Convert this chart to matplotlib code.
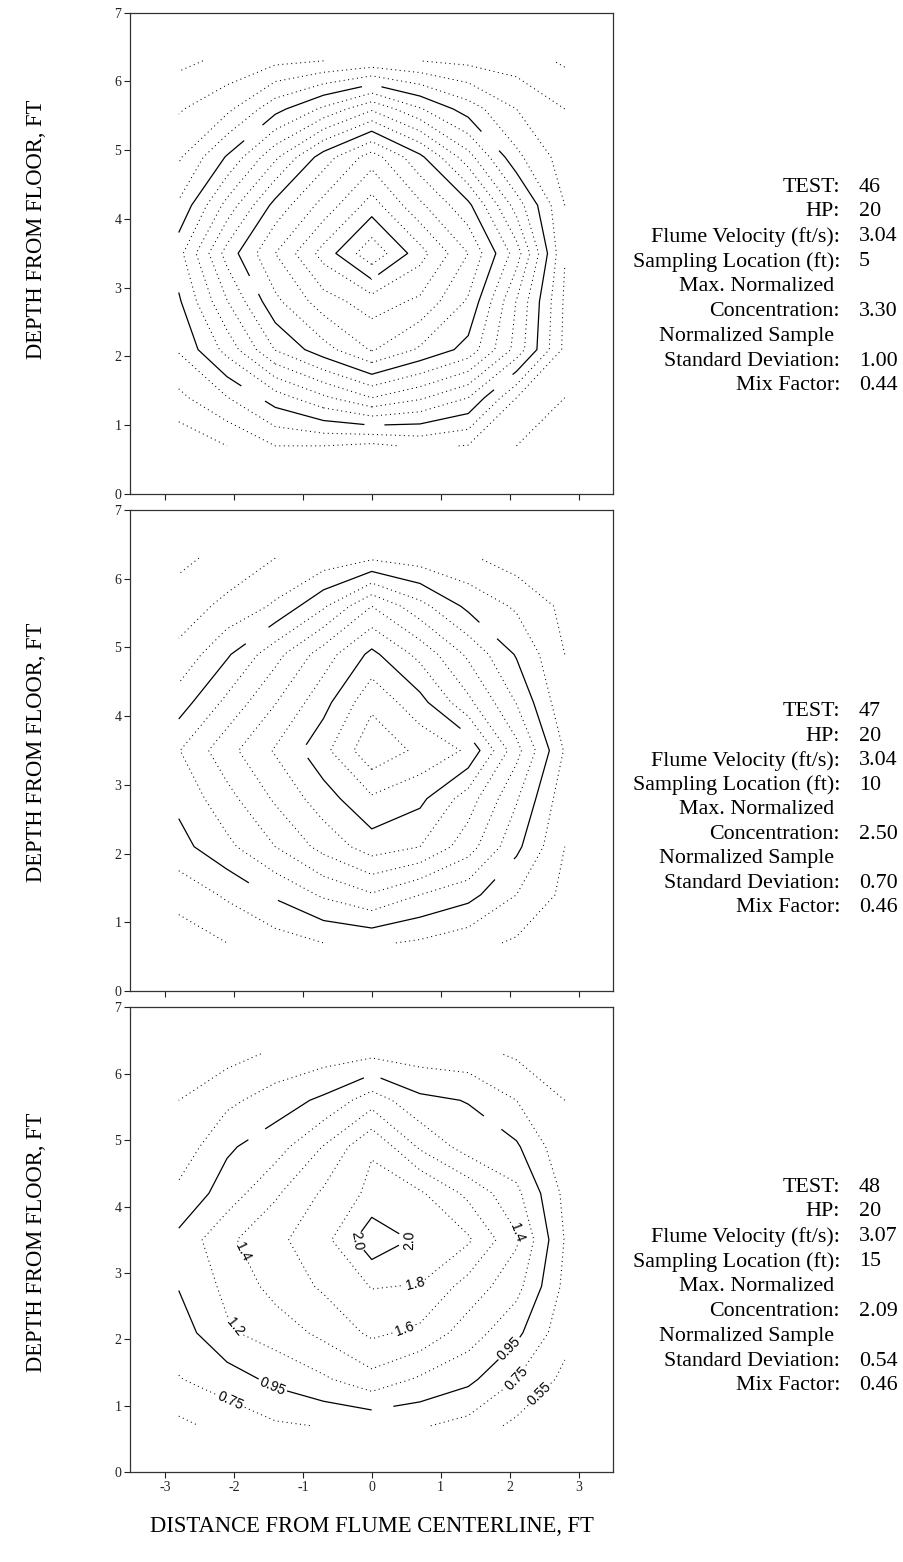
import numpy as np
import matplotlib
matplotlib.use("Agg")
import matplotlib.pyplot as plt

plt.rcParams['font.family'] = ['Liberation Serif', 'DejaVu Serif']
plt.rcParams['axes.unicode_minus'] = False
plt.rcParams['lines.dotted_pattern'] = [1.0, 3.3]

# sampling grid across the flume section (ft)
x_pos = [-2.8, -2.1, -1.4, -0.7, 0.0, 0.7, 1.4, 2.1, 2.8]
y_pos = [0.7, 1.4, 2.1, 2.8, 3.5, 4.2, 4.9, 5.6, 6.3]

# normalized concentration, one row per depth (bottom row first)
conc_46 = [
    [0.20, 0.35, 0.55, 0.55, 0.50, 0.59, 0.54, 0.35, 0.20],
    [0.50, 0.74, 1.05, 1.31, 1.55, 1.38, 1.15, 0.55, 0.35],
    [0.77, 1.22, 1.76, 2.07, 2.37, 2.12, 1.88, 1.28, 0.50],
    [0.92, 1.54, 2.10, 2.46, 2.65, 2.51, 2.12, 1.34, 0.52],
    [1.08, 1.83, 2.35, 2.83, 3.30, 2.83, 2.35, 1.65, 0.56],
    [0.78, 1.42, 2.02, 2.42, 2.84, 2.39, 2.00, 1.26, 0.55],
    [0.52, 0.97, 1.51, 2.05, 2.45, 2.00, 1.43, 0.80, 0.45],
    [0.33, 0.50, 0.88, 1.19, 1.52, 1.17, 0.85, 0.55, 0.35],
    [0.10, 0.20, 0.30, 0.35, 0.40, 0.35, 0.30, 0.25, 0.12],
]
conc_47 = [
    [0.45, 0.55, 0.65, 0.75, 0.78, 0.72, 0.62, 0.52, 0.40],
    [0.62, 0.78, 0.98, 1.18, 1.33, 1.15, 1.02, 0.75, 0.50],
    [0.88, 1.10, 1.35, 1.62, 1.85, 1.75, 1.44, 1.00, 0.55],
    [1.00, 1.28, 1.58, 1.86, 2.12, 2.00, 1.65, 1.17, 0.62],
    [1.14, 1.48, 1.77, 2.09, 2.50, 2.30, 2.12, 1.42, 0.73],
    [0.85, 1.20, 1.54, 1.88, 2.30, 2.02, 1.60, 1.14, 0.60],
    [0.60, 0.92, 1.28, 1.65, 2.00, 1.69, 1.31, 0.93, 0.55],
    [0.45, 0.60, 0.78, 1.12, 1.55, 1.22, 0.90, 0.72, 0.50],
    [0.30, 0.42, 0.55, 0.62, 0.72, 0.65, 0.58, 0.45, 0.35],
]
conc_48 = [
    [0.50, 0.62, 0.72, 0.76, 0.78, 0.77, 0.68, 0.50, 0.38],
    [0.74, 0.85, 1.00, 1.12, 1.28, 1.12, 1.00, 0.75, 0.50],
    [0.85, 1.12, 1.24, 1.40, 1.59, 1.50, 1.25, 1.00, 0.62],
    [0.96, 1.20, 1.42, 1.58, 1.76, 1.74, 1.47, 1.22, 0.70],
    [1.00, 1.31, 1.50, 1.68, 2.09, 1.91, 1.78, 1.38, 0.74],
    [0.80, 1.04, 1.32, 1.58, 1.80, 1.78, 1.50, 1.20, 0.70],
    [0.62, 0.92, 1.06, 1.36, 1.73, 1.32, 1.06, 0.98, 0.60],
    [0.55, 0.70, 0.85, 0.99, 1.26, 1.00, 0.94, 0.75, 0.55],
    [0.35, 0.48, 0.58, 0.65, 0.70, 0.65, 0.62, 0.52, 0.38],
]

levels = [0.15, 0.35, 0.55, 0.75, 0.95, 1.15, 1.35, 1.55, 1.75,
          1.95, 2.15, 2.35, 2.55, 2.75, 2.95, 3.15]
levels_solid = [0.95, 1.95, 2.95]

test_no = ['46', '47', '48']
hp = ['20', '20', '20']
velocity = ['3.04', '3.04', '3.07']
location = ['5', '10', '15']
max_conc = ['3.30', '2.50', '2.09']
std_dev = ['1.00', '0.70', '0.54']
mix_factor = ['0.44', '0.46', '0.46']

# breaks left in the solid contours: (level, x, y, half length in px)
gaps = [
    [(0.95, -1.75, 5.29, 12), (0.95, 0.0, 5.96, 10), (0.95, 1.77, 5.18, 13),
     (0.95, 1.93, 1.60, 12), (0.95, 0.04, 0.95, 10), (0.95, -1.74, 1.43, 14),
     (1.95, -1.77, 3.01, 10), (2.95, 0.02, 3.12, 7)],
    [(0.95, -1.66, 5.17, 14), (0.95, -1.57, 1.45, 17), (0.95, 1.96, 1.74, 14),
     (0.95, 1.74, 5.30, 12), (1.95, -1.02, 3.47, 8), (1.95, 1.45, 3.77, 10)],
    [(0.95, -1.70, 5.14, 10), (0.95, 0.02, 6.02, 9), (0.95, 1.78, 5.30, 11),
     (0.95, 0.17, 0.88, 11)],
]

# contour labels on the last panel
label_spots = {
    1.95: [(-0.2, 3.5), (0.55, 3.5)],
    1.75: [(0.63, 2.8)],
    1.55: [(0.51, 2.07)],
    1.35: [(-1.89, 3.3), (2.08, 3.6)],
    1.15: [(-2.0, 2.17)],
    0.95: [(-1.48, 1.22), (2.1, 1.75)],
    0.75: [(-2.1, 0.95), (2.13, 1.4)],
    0.55: [(2.44, 1.17)],
}


def level_text(v):
    if v < 1:
        return f"{v:.2f}"
    return f"{v + 1e-6:.1f}"


def cut_gap(ax, cs, xy, half):
    """Blank out a short stretch of a contour line around xy."""
    p = ax.transData.transform([xy])[0]
    best = None
    for seg in cs.allsegs[0]:
        if len(seg) < 2:
            continue
        pts = ax.transData.transform(seg)
        steps = np.hypot(*np.diff(pts, axis=0).T)
        arc = np.concatenate([[0], np.cumsum(steps)])
        for i in range(len(pts) - 1):
            if steps[i] == 0:
                continue
            d = pts[i + 1] - pts[i]
            t = np.clip((p - pts[i]) @ d / steps[i] ** 2, 0, 1)
            dist = np.hypot(*(pts[i] + t * d - p))
            if best is None or dist < best[0]:
                best = (dist, pts, arc, arc[i] + t * steps[i])
    if best is None:
        return
    _, pts, arc, s0 = best
    inner = arc[(arc > s0 - half) & (arc < s0 + half)]
    s = np.clip(np.concatenate([[s0 - half], inner, [s0 + half]]), 0, arc[-1])
    xs = np.interp(s, arc, pts[:, 0])
    ys = np.interp(s, arc, pts[:, 1])
    back = ax.transData.inverted().transform(np.column_stack([xs, ys]))
    ax.plot(back[:, 0], back[:, 1], color='white', lw=2.6,
            solid_capstyle='butt', zorder=2.5)


W, H = 904, 1562
fig = plt.figure(figsize=(W / 100, H / 100), dpi=100)

# axes boxes in pixels: (top, bottom)
boxes = [(12.7, 494.0), (510.0, 991.0), (1007.3, 1472.3)]
ax_left, ax_right = 130.5, 613.0
ylabel_centers = [229, 752, 1242]
text_rows = [(187, 386), (712, 908), (1187, 1386)]

panels = [conc_46, conc_47, conc_48]
for k, conc in enumerate(panels):
    top, bot = boxes[k]
    ax = fig.add_axes([ax_left / W, (H - bot) / H,
                       (ax_right - ax_left) / W, (bot - top) / H])
    ax.set_xlim(-3.5, 3.5)
    ax.set_ylim(0, 7)
    ax.set_xticks(range(-3, 4))
    ax.set_yticks(range(0, 8))
    ax.tick_params(direction='out', length=4, width=0.8, labelsize=10,
                   pad=2.5, colors='#222222')
    if k < 2:
        ax.tick_params(labelbottom=False)
    for s in ax.spines.values():
        s.set_linewidth(0.9)
        s.set_color('#333333')

    z = np.array(conc)
    sets = {}
    for lev in levels:
        if not (z.min() < lev < z.max()):
            continue
        solid = lev in levels_solid
        sets[lev] = ax.contour(x_pos, y_pos, z, levels=[lev], colors='black',
                               linewidths=0.9 if solid else 0.75,
                               linestyles='solid' if solid else 'dotted',
                               zorder=2)

    for lev, gx, gy, half in gaps[k]:
        cut_gap(ax, sets[lev], (gx, gy), half)

    if k == 2:
        with plt.rc_context({'font.family': ['Liberation Sans', 'DejaVu Sans']}):
            for lev, spots in label_spots.items():
                ax.clabel(sets[lev], manual=spots, inline=True,
                          inline_spacing=2, fontsize=10, fmt=level_text)

    fig.text(37 / W, 1 - ylabel_centers[k] / H, 'DEPTH FROM FLOOR, FT',
             rotation=90, ha='center', va='center', fontsize=16.3)

    rows = [("TEST:", test_no[k]), ("HP:", hp[k]),
            ("Flume Velocity (ft/s):", velocity[k]),
            ("Sampling Location (ft):", location[k]),
            ("Max. Normalized", ""), ("Concentration:", max_conc[k]),
            ("Normalized Sample", ""), ("Standard Deviation:", std_dev[k]),
            ("Mix Factor:", mix_factor[k])]
    y0, y1 = text_rows[k]
    step = (y1 - y0) / (len(rows) - 1)
    for i, (lab, val) in enumerate(rows):
        yy = 1 - (y0 + i * step) / H
        xr = 840 if lab.endswith(':') else 834
        fig.text(xr / W, yy, lab, ha='right', va='center', fontsize=15.8)
        if val:
            fig.text(859 / W, yy, val, ha='left', va='center', fontsize=15.8)

fig.text(372 / W, 1 - 1526 / H, 'DISTANCE FROM FLUME CENTERLINE, FT',
         ha='center', va='center', fontsize=16.3)

fig.savefig('out.png', dpi=100)
